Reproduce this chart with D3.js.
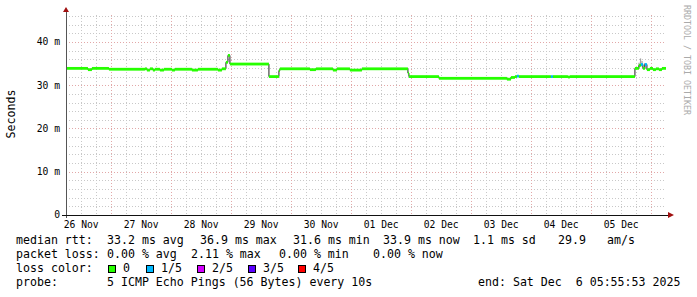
<!DOCTYPE html>
<html>
<head>
<meta charset="utf-8">
<script src="https://cdn.jsdelivr.net/npm/d3@7"></script>
<style>
  body { margin: 0; background: #fff; }
  text { font-family: "DejaVu Sans Mono", monospace; white-space: pre; }
</style>
</head>
<body>
<div id="chart"></div>
<script>
// hours since 26 Nov 00:00, median rtt (ms), lost pings (of 5)
var hours  = [5.93, 14.7, 16.3, 23.1, 37.5, 38.3, 39.5, 40.7, 41.5, 43.5,
              45.1, 48.3, 49.5, 56.3, 58.7, 66.7, 68.3, 69.9, 70.7, 71.5,
              87.1, 91.1, 91.5, 103.5, 105.9, 112.7, 114.3, 119.5, 124.3, 142.7,
              143.1, 155.1, 182.3, 183.9, 185.5, 186.3, 187.1, 199.9, 200.7, 206.7,
              207.5, 233.5, 235.1, 235.9, 236.7, 237.5, 238.3, 239.5, 240.7, 241.9,
              243.1, 244.3, 245.93];
var median = [33.9, 33.6, 33.9, 33.7, 33.8, 33.5, 33.8, 33.5, 33.7, 33.5,
              33.7, 33.5, 33.7, 33.5, 33.7, 33.5, 33.8, 35.3, 36.9, 34.9,
              32.0, 33.4, 33.8, 33.6, 33.8, 33.5, 33.8, 33.5, 33.8, 32.8,
              32.0, 31.6, 31.4, 31.8, 32.0, 32.1, 32.0, 32.0, 32.0, 31.9,
              32.0, 33.9, 34.6, 34.8, 33.9, 34.8, 33.6, 33.9, 33.6, 33.8,
              33.6, 33.9, 33.9];
var loss   = [0, 0, 0, 0, 0, 0, 0, 0, 0, 0,
              0, 0, 0, 0, 0, 0, 0, 0, 0, 0,
              0, 0, 0, 0, 0, 0, 0, 0, 0, 0,
              0, 0, 0, 0, 0, 1, 0, 1, 0, 0,
              0, 0, 0, 1, 0, 1, 0, 0, 0, 0,
              0, 0, 0];

// smoke (min/max spread of the pings)
var smokeHours = [234.9, 235.5, 236.1, 237.1];
var smokeLo    = [34.2, 34.4, 34.3, 34.2];
var smokeHi    = [35.2, 36.2, 35.6, 35.1];

var lossLabels = ["0", "1/5", "2/5", "3/5", "4/5"];
var lossColors = ["#26ff00", "#00b8ff", "#d400ff", "#5a00ff", "#ff0000"];

var yTicks = [0, 10, 20, 30, 40];

var legendRows = [
  [[16, "median rtt:"], [107, "33.2 ms avg"], [200, "36.9 ms max"], [293, "31.6 ms min"],
   [383, "33.9 ms now"], [473, "1.1 ms sd"], [558, "29.9"], [607, "am/s"]],
  [[16, "packet loss:"], [107, "0.00 % avg"], [191, "2.11 % max"], [279, "0.00 % min"], [373, "0.00 % now"]],
  [[16, "loss color:"]],
  [[16, "probe:"], [107, "5 ICMP Echo Pings (56 Bytes) every 10s"], [478, "end: Sat Dec  6 05:55:53 2025"]]
];

var W = 697, H = 297;
var pLeft = 66, pRight = 666, pTop = 15, pBottom = 215;

var day0 = Date.UTC(2025, 10, 26);
function toDate(h) { return new Date(day0 + h * 3600e3); }

var x = d3.scaleUtc()
    .domain([toDate(5.93), toDate(245.93)])
    .range([pLeft, pRight]);

var y = d3.scaleLinear()
    .domain([0, 46.24])
    .range([pBottom, pTop]);

var svg = d3.select("#chart").append("svg")
    .attr("width", W)
    .attr("height", H);

svg.append("rect").attr("width", W).attr("height", H).attr("fill", "#fff");

// grid
var g = svg.append("g");
var minorY = d3.range(2, 47, 2).filter(function (v) { return v % 10 != 0; });
g.selectAll(".hmin").data(minorY).enter().append("line")
    .attr("x1", pLeft).attr("x2", pRight)
    .attr("y1", function (d) { return Math.round(y(d)) + 0.5; })
    .attr("y2", function (d) { return Math.round(y(d)) + 0.5; })
    .attr("stroke", "#c8c8c8").attr("stroke-dasharray", "1,2");

var minorX = d3.utcHour.every(6).range(x.domain()[0], x.domain()[1])
    .filter(function (d) { return d.getUTCHours() != 0; });
g.selectAll(".vmin").data(minorX).enter().append("line")
    .attr("y1", pTop).attr("y2", pBottom)
    .attr("x1", function (d) { return Math.round(x(d)) + 0.5; })
    .attr("x2", function (d) { return Math.round(x(d)) + 0.5; })
    .attr("stroke", "#c8c8c8").attr("stroke-dasharray", "1,2");

g.selectAll(".hmaj").data(yTicks.slice(1)).enter().append("line")
    .attr("x1", pLeft).attr("x2", pRight)
    .attr("y1", function (d) { return Math.round(y(d)) + 0.5; })
    .attr("y2", function (d) { return Math.round(y(d)) + 0.5; })
    .attr("stroke", "#e2a8a8").attr("stroke-dasharray", "1,2");

var days = d3.utcDay.range(x.domain()[0], x.domain()[1]);
g.selectAll(".vmaj").data(days).enter().append("line")
    .attr("y1", pTop).attr("y2", pBottom)
    .attr("x1", function (d) { return Math.round(x(d)) + 0.5; })
    .attr("x2", function (d) { return Math.round(x(d)) + 0.5; })
    .attr("stroke", "#e2a8a8").attr("stroke-dasharray", "1,2");

// smoke
var smoke = smokeHours.map(function (h, i) { return { t: toDate(h), lo: smokeLo[i], hi: smokeHi[i] }; });
svg.selectAll(".smoke").data(smoke).enter().append("rect")
    .attr("x", function (d) { return x(d.t); })
    .attr("width", 1.2)
    .attr("y", function (d) { return y(d.hi); })
    .attr("height", function (d) { return y(d.lo) - y(d.hi); })
    .attr("fill", "#a0a0a0");

// median line (black) and loss-coloured band
var pts = hours.map(function (h, i) { return { t: toDate(h), v: median[i], l: loss[i] }; });

svg.append("path")
    .datum(pts)
    .attr("d", d3.line()
        .x(function (d) { return x(d.t); })
        .y(function (d) { return y(d.v); })
        .curve(d3.curveStepAfter))
    .attr("fill", "none")
    .attr("stroke", "#202020")
    .attr("stroke-width", 1);

svg.selectAll(".band").data(pts.slice(0, -1)).enter().append("rect")
    .attr("x", function (d) { return x(d.t); })
    .attr("width", function (d, i) { return x(pts[i + 1].t) - x(d.t); })
    .attr("y", function (d) { return y(d.v) - 1.4; })
    .attr("height", 2.8)
    .attr("fill", function (d) { return lossColors[d.l]; });

// axes
svg.append("line").attr("x1", pLeft + 0.5).attr("x2", pLeft + 0.5)
    .attr("y1", pBottom + 3).attr("y2", 12).attr("stroke", "#555");
svg.append("line").attr("x1", 62).attr("x2", 669)
    .attr("y1", pBottom + 0.5).attr("y2", pBottom + 0.5).attr("stroke", "#111");
svg.append("path").attr("d", "M63,12 L69,12 L66,7 Z").attr("fill", "#a01010");
svg.append("path").attr("d", "M668,212 L668,218 L674,215 Z").attr("fill", "#a01010");

// y labels
svg.selectAll(".ylab").data(yTicks).enter().append("text")
    .attr("x", 60)
    .attr("y", function (d) { return y(d); })
    .attr("dy", "0.35em")
    .attr("text-anchor", "end")
    .attr("font-size", "9.7px")
    .attr("fill", "#000")
    .text(function (d) { return d == 0 ? "0" : d + " m"; });

// x labels at noon of each day shown
var labelDays = d3.utcDay.range(d3.utcDay.floor(x.domain()[0]), x.domain()[1])
    .filter(function (d) { return d3.utcHour.offset(d, 12) <= x.domain()[1]; });
svg.selectAll(".xlab").data(labelDays).enter().append("text")
    .attr("x", function (d) { return x(d3.utcHour.offset(d, 12)); })
    .attr("y", 228)
    .attr("text-anchor", "middle")
    .attr("font-size", "9.7px")
    .attr("fill", "#000")
    .text(function (d) { return d3.utcFormat("%d %b")(d); });

// titles
svg.append("text")
    .attr("transform", "translate(15,114) rotate(-90)")
    .attr("text-anchor", "middle")
    .attr("font-size", "11.6px")
    .text("Seconds");

svg.append("text")
    .attr("transform", "translate(684,5) rotate(90)")
    .attr("font-size", "8.3px")
    .attr("fill", "#aaa")
    .text("RRDTOOL / TOBI OETIKER");

// legend
legendRows.forEach(function (row, r) {
  row.forEach(function (c) {
    svg.append("text")
        .attr("x", c[0]).attr("y", 244 + r * 14)
        .attr("font-size", "11.6px")
        .text(c[1]);
  });
});

var boxX = [108, 146, 197, 248, 298];
lossLabels.forEach(function (lab, i) {
  svg.append("rect")
      .attr("x", boxX[i] + 0.5).attr("y", 265.5)
      .attr("width", 7).attr("height", 7)
      .attr("fill", lossColors[i]).attr("stroke", "#000");
  svg.append("text")
      .attr("x", boxX[i] + 15).attr("y", 272)
      .attr("font-size", "11.6px")
      .text(lab);
});
</script>
</body>
</html>
